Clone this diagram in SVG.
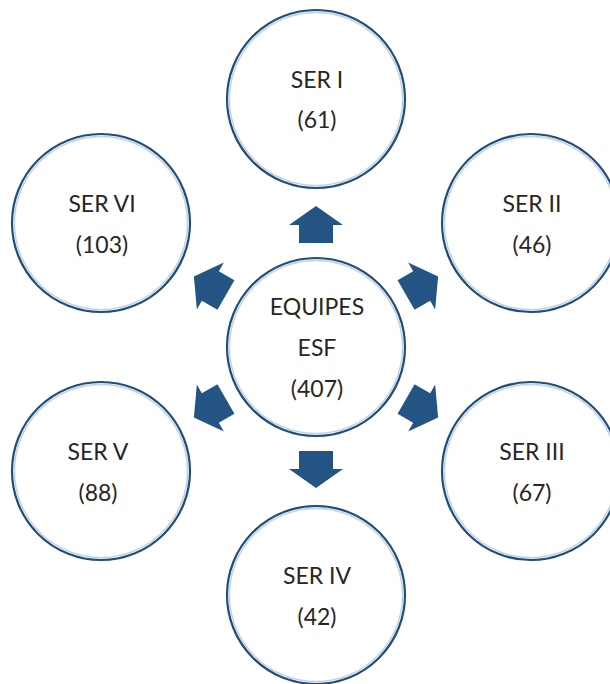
<svg xmlns="http://www.w3.org/2000/svg" width="610" height="684" viewBox="0 0 610 684">
  <style>
    .ring { fill: #ffffff; stroke: #1f4e79; stroke-width: 2.2; }
    .halo { fill: none; stroke: #a9c1d9; stroke-width: 1.6; opacity: 0.7; }
    .lbl { font-family: Lato, "Open Sans", "Liberation Sans", sans-serif; font-size: 23px; fill: #262626; text-anchor: middle; }
    .arrow { fill: #245483; }
  </style>
  <defs>
    <!-- block arrow pointing up, placed relative to the hub centre (316,347) -->
    <polygon id="blk" points="299,243 333,243 333,225 343,225 316,206 289,225 299,225"/>
  </defs>

  <rect width="610" height="684" fill="#ffffff"/>

  <g id="connectors">
    <use href="#blk" class="arrow"/>
    <use href="#blk" class="arrow" transform="rotate(60 316 347)"/>
    <use href="#blk" class="arrow" transform="rotate(120 316 347)"/>
    <use href="#blk" class="arrow" transform="rotate(180 316 347)"/>
    <use href="#blk" class="arrow" transform="rotate(240 316 347)"/>
    <use href="#blk" class="arrow" transform="rotate(300 316 347)"/>
  </g>

  <g id="hub">
    <circle class="ring" cx="316" cy="347" r="89"/>
    <circle class="halo" cx="316" cy="347" r="86.6"/>
    <text class="lbl" x="317" y="315">EQUIPES</text>
    <text class="lbl" x="317" y="356">ESF</text>
    <text class="lbl" x="317" y="397">(407)</text>
  </g>

  <g id="ser1">
    <circle class="ring" cx="316" cy="99" r="89"/>
    <circle class="halo" cx="316" cy="99" r="86.6"/>
    <text class="lbl" x="317" y="88">SER I</text>
    <text class="lbl" x="317" y="128">(61)</text>
  </g>

  <g id="ser2">
    <circle class="ring" cx="531" cy="223" r="89"/>
    <circle class="halo" cx="531" cy="223" r="86.6"/>
    <text class="lbl" x="532" y="212">SER II</text>
    <text class="lbl" x="532" y="253">(46)</text>
  </g>

  <g id="ser3">
    <circle class="ring" cx="531" cy="471" r="89"/>
    <circle class="halo" cx="531" cy="471" r="86.6"/>
    <text class="lbl" x="532" y="460">SER III</text>
    <text class="lbl" x="532" y="501">(67)</text>
  </g>

  <g id="ser4">
    <circle class="ring" cx="316" cy="595" r="89"/>
    <circle class="halo" cx="316" cy="595" r="86.6"/>
    <text class="lbl" x="317" y="584">SER IV</text>
    <text class="lbl" x="317" y="625">(42)</text>
  </g>

  <g id="ser5">
    <circle class="ring" cx="101" cy="471" r="89"/>
    <circle class="halo" cx="101" cy="471" r="86.6"/>
    <text class="lbl" x="98" y="460">SER V</text>
    <text class="lbl" x="98" y="501">(88)</text>
  </g>

  <g id="ser6">
    <circle class="ring" cx="101" cy="223" r="89"/>
    <circle class="halo" cx="101" cy="223" r="86.6"/>
    <text class="lbl" x="102" y="212">SER VI</text>
    <text class="lbl" x="102" y="253">(103)</text>
  </g>
</svg>
